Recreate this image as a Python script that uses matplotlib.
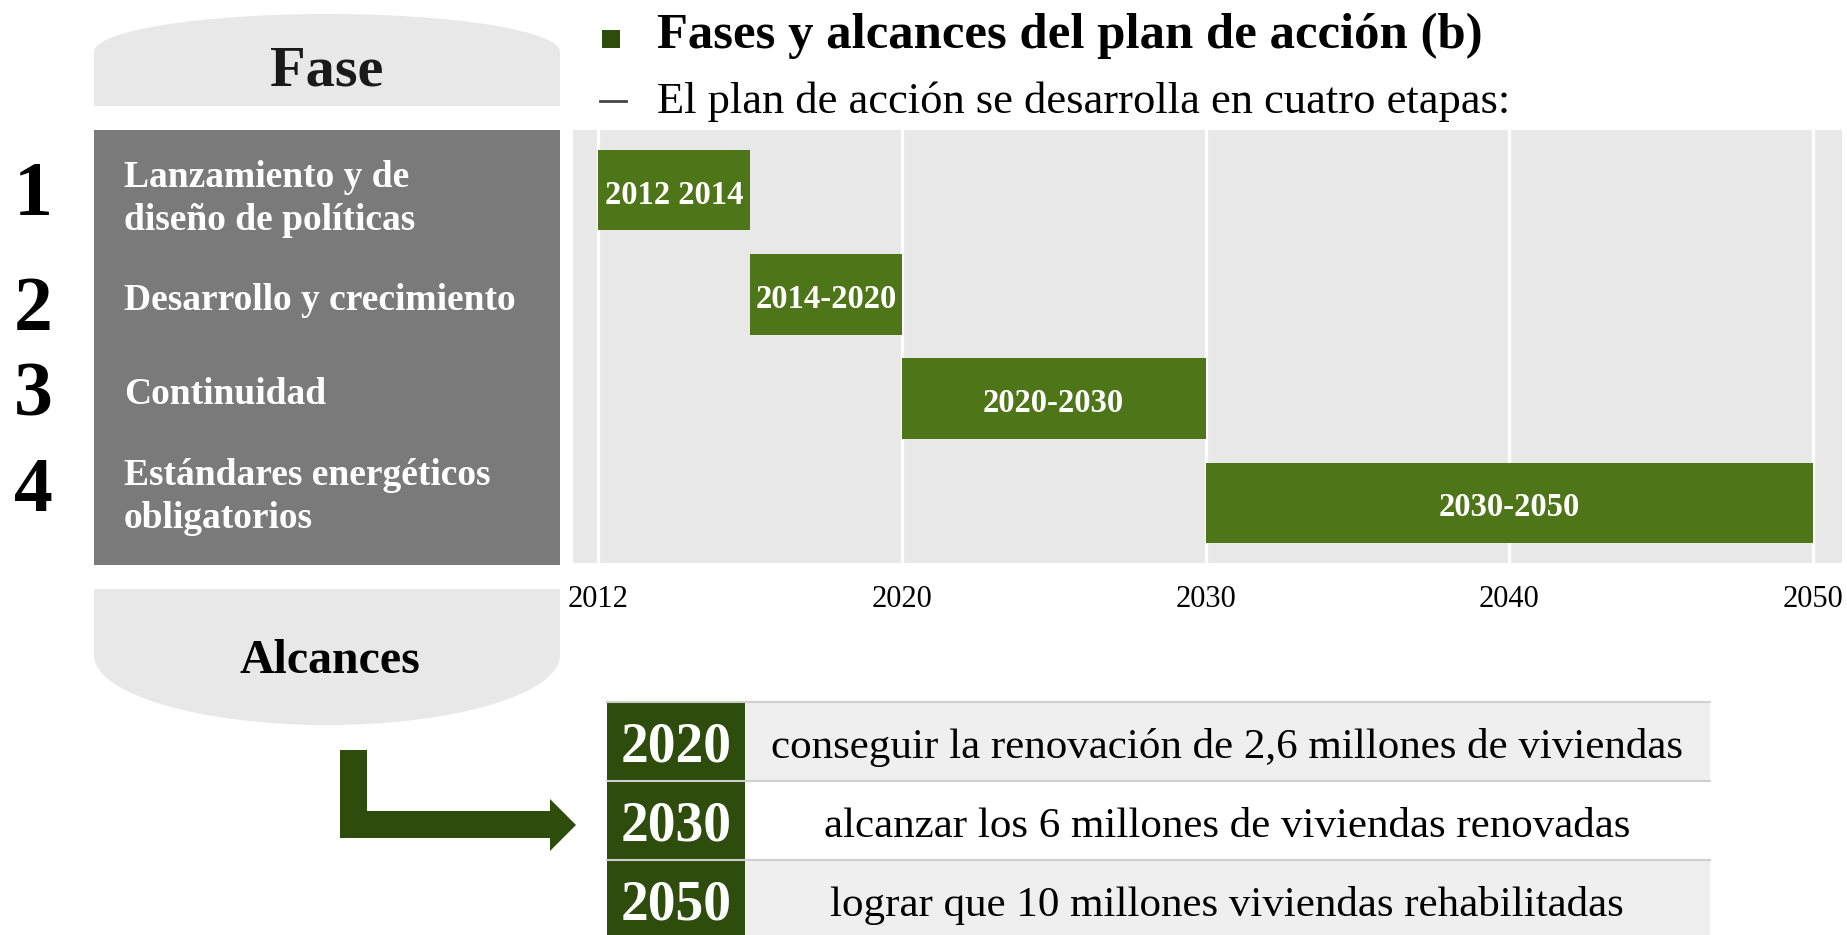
import numpy as np
import matplotlib.pyplot as plt
from matplotlib.patches import Rectangle, Polygon, PathPatch
from matplotlib.path import Path
from matplotlib.ticker import NullLocator

plt.rcParams['font.family'] = ['Liberation Serif', 'DejaVu Serif']

# ---- data ----
phase_num = ['1', '2', '3', '4']
phase_names = ['Lanzamiento y de\ndiseño de políticas', 'Desarrollo y crecimiento',
               'Continuidad', 'Estándares energéticos\nobligatorios']
start_year = [2012, 2014, 2020, 2030]
end_year = [2014, 2020, 2030, 2050]
bar_labels = ['2012 2014', '2014-2020', '2020-2030', '2030-2050']
tick_years = [2012, 2020, 2030, 2040, 2050]
goal_years = ['2020', '2030', '2050']
goals = ['conseguir la renovación de 2,6 millones de viviendas',
         'alcanzar los 6 millones de viviendas renovadas',
         'lograr que 10 millones viviendas rehabilitadas']

title = 'Fases y alcances del plan de acción (b)'
subtitle = 'El plan de acción se desarrolla en cuatro etapas:'

# colours
bar_green = '#4e7518'
dark_green = '#2e4c0c'
panel_grey = '#e8e8e8'
box_grey = '#7a7a7a'

W, H = 1847, 935
fig = plt.figure(figsize=(W / 100, H / 100), dpi=100)

# background axes in pixel units (y down)
bg = fig.add_axes([0, 0, 1, 1])
bg.set_xlim(0, W)
bg.set_ylim(H, 0)
bg.axis('off')

k = 0.552
# "Fase" cap: rounded top, flat bottom
x0, x1, xm = 94, 560, 327
rx = xm - x0
fase_path = Path(
    [(x0, 106), (x0, 52), (x0, 52 - k * 38), (xm - k * rx, 14), (xm, 14),
     (xm + k * rx, 14), (x1, 52 - k * 38), (x1, 52), (x1, 106), (x0, 106)],
    [Path.MOVETO, Path.LINETO, Path.CURVE4, Path.CURVE4, Path.CURVE4,
     Path.CURVE4, Path.CURVE4, Path.CURVE4, Path.LINETO, Path.CLOSEPOLY])
bg.add_patch(PathPatch(fase_path, fc=panel_grey, ec='none'))
bg.text(xm, 71, 'Fase', fontsize=42, fontweight='bold', ha='center', va='center',
        color='#1a1a1a')

# grey phase box
bg.add_patch(Rectangle((x0, 130), x1 - x0, 435, fc=box_grey, ec='none'))

num_base = [215, 330, 415, 511]
name_y = [199, 300, 395, 497]
for n, nb, name, ny in zip(phase_num, num_base, phase_names, name_y):
    bg.text(33, nb, n, fontsize=56, fontweight='bold', ha='center', va='baseline')
    bg.text(124, ny, name, fontsize=27, fontweight='bold', color='white',
            ha='left', va='center', linespacing=1.3)

# "Alcances" cap: flat top, rounded bottom
alc_path = Path(
    [(x0, 589), (x1, 589), (x1, 655), (x1, 655 + k * 70), (xm + k * rx, 725), (xm, 725),
     (xm - k * rx, 725), (x0, 655 + k * 70), (x0, 655), (x0, 589)],
    [Path.MOVETO, Path.LINETO, Path.LINETO, Path.CURVE4, Path.CURVE4, Path.CURVE4,
     Path.CURVE4, Path.CURVE4, Path.CURVE4, Path.CLOSEPOLY])
bg.add_patch(PathPatch(alc_path, fc=panel_grey, ec='none'))
bg.text(xm + 3, 661, 'Alcances', fontsize=34.5, fontweight='bold', ha='center', va='center')

# arrow
arrow = Polygon([(340, 750), (367, 750), (367, 811), (550, 811), (550, 799),
                 (576, 825), (550, 851), (550, 838), (340, 838)],
                closed=True, fc=dark_green, ec='none')
bg.add_patch(arrow)

# title and subtitle
bg.add_patch(Rectangle((602, 30), 18, 18, fc=dark_green, ec='none'))
bg.text(657, 36, title, fontsize=36.5, fontweight='bold', ha='left', va='center')
bg.plot([600, 626], [101, 101], color='#444444', lw=2)
bg.text(657, 102, subtitle, fontsize=32, ha='left', va='center')

# goals table
row_top, row_h = 702, 79
for i, (yr, goal) in enumerate(zip(goal_years, goals)):
    top = row_top + i * row_h
    shade = '#efefef' if i % 2 == 0 else 'white'
    bg.add_patch(Rectangle((745, top), 965, row_h, fc=shade, ec='none'))
    bg.add_patch(Rectangle((607, top), 138, row_h, fc=dark_green, ec='none'))
    bg.plot([607, 1710], [top, top], color='#cfcfcf', lw=1.5)
    bg.text(676, top + row_h / 2 + 6, yr, fontsize=40, fontweight='bold', color='white',
            ha='center', va='center')
    bg.text(1227, top + row_h / 2 + 6, goal, fontsize=31, ha='center', va='center')

# ---- gantt chart ----
knot_years = [2000, 2012, 2014, 2020, 2030, 2040, 2050, 2060]
knot_pos = [-3, 0, 0.5, 1, 2, 3, 4, 5]


def fwd(x):
    return np.interp(x, knot_years, knot_pos)


def inv(p):
    return np.interp(p, knot_pos, knot_years)


pl, pr, pt, pb = 573, 1842, 130, 563
ax = fig.add_axes([pl / W, 1 - pb / H, (pr - pl) / W, (pb - pt) / H])
ax.set_facecolor(panel_grey)
ax.set_xscale('function', functions=(fwd, inv))

widths = [e - s for s, e in zip(start_year, end_year)]
bars = ax.barh(range(len(start_year)), widths, left=start_year, height=0.77,
               color=bar_green)
labels = ax.bar_label(bars, labels=bar_labels, label_type='center', color='white',
                      fontsize=23.5, fontweight='bold')
for t in labels:
    t.xyann = (0, -3.5)

ax.set_xlim(inv(-0.082), inv(4.095))
ax.set_ylim(3.58, -0.58)
ax.set_xticks(tick_years)
ax.set_xticklabels([str(t) for t in tick_years])
ax.xaxis.set_minor_locator(NullLocator())
ax.set_yticks([])
ax.grid(axis='x', color='white', lw=2.4)
ax.set_axisbelow(True)
ax.tick_params(axis='x', length=0, labelsize=22, pad=16)
for s in ax.spines.values():
    s.set_visible(False)

fig.savefig('out.png', dpi=100)
